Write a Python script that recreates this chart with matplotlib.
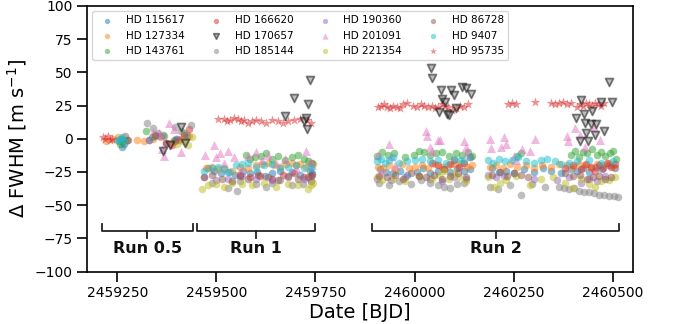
import matplotlib
matplotlib.use("Agg")
import matplotlib.pyplot as plt

T0 = 2459000.0  # BJD offset used in the time lists below

# ---- per-star FWHM offsets (time in BJD - T0, dFWHM in m/s) -------------------
t_115617 = [255, 262, 268, 275, 330, 345, 372, 398, 425,
            478, 495, 512, 530, 548, 566, 585, 603, 622, 640, 660, 690, 712, 735, 742,
            912, 928, 945, 962, 980, 1005, 1022, 1040, 1058, 1075, 1090, 1108, 1125, 1140,
            1195, 1212, 1230, 1252, 1275, 1300, 1325, 1345, 1370, 1395, 1410, 1425, 1440,
            1458, 1472, 1490, 1505]
v_115617 = [-2, -6, -4, -1, -1, 2, -3, 0, 1,
            -22, -24, -26, -25, -27, -24, -26, -25, -28, -26, -24, -25, -27, -24, -26,
            -23, -25, -26, -24, -27, -25, -22, -26, -24, -23, -25, -22, -24, -23,
            -22, -25, -24, -26, -23, -25, -22, -24, -26, -23, -24, -22, -25,
            -21, -23, -20, -22]

t_127334 = [222, 240, 252, 270, 300, 318, 340, 360, 385, 410, 430,
            475, 490, 505, 520, 540, 560, 580, 600, 615, 630, 645, 660, 675, 690, 700,
            710, 725, 738, 745,
            908, 920, 935, 950, 968, 985, 1000, 1018, 1035, 1052, 1068, 1085, 1100, 1118,
            1132, 1145,
            1190, 1205, 1222, 1240, 1258, 1280, 1300, 1322, 1345, 1365, 1385, 1400, 1415,
            1430, 1445, 1460, 1475, 1490, 1502]
v_127334 = [-2, 0, 1, -2, -1, -2, 0, 1, -3, 0, 2,
            -22, -21, -23, -22, -24, -21, -22, -20, -19, -18, -20, -21, -19, -18, -20,
            -19, -21, -18, -19,
            -21, -22, -20, -23, -19, -22, -21, -20, -22, -19, -21, -20, -19, -18,
            -21, -20,
            -21, -20, -22, -19, -21, -20, -22, -20, -21, -19, -20, -21, -19,
            -20, -22, -19, -20, -18, -21]

t_143761 = [258, 265, 322, 338, 365, 392, 418,
            575, 585, 598, 612, 625, 640, 655, 672, 690, 705, 720, 732, 742,
            905, 918, 932, 948, 975, 998, 1012, 1025, 1040, 1055, 1070, 1088, 1105, 1120,
            1135, 1145,
            1258, 1268, 1395, 1405, 1415, 1425, 1435, 1448, 1460, 1470, 1480, 1492, 1500,
            1508]
v_143761 = [-4, -2, 6, 1, 3, -1, 4,
            -12, -15, -14, -13, -11, -15, -13, -16, -14, -12, -15, -17, -18,
            -13, -10, -12, -11, -14, -12, -9, -10, -12, -11, -10, -13, -11, -12,
            -10, -13,
            -13, -11, -12, -9, -14, -10, -11, -8, -12, -10, -13, -11, -9,
            -15]

t_166620 = [372, 388, 405, 418, 432,
            560, 585, 610, 640, 668, 695, 720, 740,
            1045, 1060, 1075, 1090, 1100, 1112, 1125, 1140,
            1380, 1400, 1420, 1432, 1445, 1455, 1465, 1475, 1485, 1495, 1505]
v_166620 = [-3, -5, -1, 3, 7,
            -27, -29, -28, -30, -27, -26, -29, -28,
            -18, -20, -23, -19, -16, -21, -18, -14,
            -22, -20, -23, -19, -21, -24, -20, -22, -18, -21, -19]

t_170657 = [365, 383, 411, 420,
            674, 697, 720, 726, 728, 732, 737,
            1042, 1043, 1062, 1067, 1070, 1078, 1083, 1088, 1092, 1100, 1105, 1120, 1130,
            1143,
            1406, 1417, 1421, 1427, 1431, 1433, 1437, 1444, 1447, 1456, 1457, 1470, 1478,
            1490, 1497]
v_170657 = [-9, -5, 9, -3,
            17, 31, 13, 16, 7, 26, 44,
            53, 46, 20, 37, 30, 28, 19, 18, 37, 33, 23, 39, 38,
            34,
            16, -2, 29, 19, 12, 4, -2, 11, 21, 3, 11, 28, 6,
            43, 28]

t_185144 = [325, 340, 352, 368, 395, 410, 425, 435,
            490, 530, 552, 560, 600, 625, 640, 660, 690, 718, 738,
            910, 935, 960, 990, 1015, 1040, 1060, 1075, 1090, 1108, 1125,
            1190, 1210, 1240, 1268, 1295, 1330, 1365, 1378, 1390, 1402, 1415, 1428, 1440,
            1452, 1465, 1478, 1490, 1502, 1512]
v_185144 = [12, 8, 4, 2, 9, 6, 3, 10,
            -33, -37, -39, -32, -34, -36, -33, -31, -35, -34, -32,
            -33, -35, -32, -34, -31, -33, -35, -36, -37, -34, -33,
            -36, -38, -35, -42, -34, -36, -36, -37, -38, -37, -39, -40, -40,
            -41, -42, -42, -43, -43, -44]

t_190360 = [330, 355, 400,
            468, 500, 530, 565, 600, 640, 680, 720, 740,
            905, 940, 975, 1010, 1040, 1070, 1100, 1130,
            1185, 1205, 1225, 1300, 1360, 1390, 1420, 1440, 1460, 1480]
v_190360 = [-1, 2, 0,
            -29, -31, -30, -28, -30, -31, -29, -30, -32,
            -30, -31, -29, -28, -30, -32, -29, -30,
            -27, -29, -28, -30, -31, -29, -33, -30, -32, -28]

t_201091 = [340, 355, 362, 368, 380, 392, 412,
            472, 495, 500, 508, 520, 530, 545, 560, 580, 600, 615, 630, 650, 672, 700,
            725, 735, 742,
            908, 915, 935, 940, 950, 1028, 1032, 1040, 1045, 1058, 1063, 1125, 1130, 1133,
            1190, 1192, 1218, 1225, 1230, 1250, 1255, 1270, 1290, 1305, 1385, 1388, 1404,
            1418, 1430, 1453, 1468]
v_201091 = [5, 4, -8, -13, 12, 7, -10,
            -12, -5, -14, -11, -18, -9, -14, -24, -13, -10, -16, -12, -18, -15, -22,
            -9, -17, -20,
            -12, -25, -4, -13, -20, 6, 2, -6, -9, -1, -1, -2, -6, -10,
            0, -7, -6, 1, -4, -13, -16, -8, -9, 0, 2, -2, 8,
            3, -6, 9, -1]

t_221354 = [400, 415, 428, 438,
            465, 480, 500, 520, 540, 565, 590, 620, 650, 680, 705, 730, 738, 744,
            905, 918, 945, 975, 1010, 1045, 1062, 1075, 1088, 1100, 1112, 1130,
            1185, 1200, 1215, 1230, 1255, 1290, 1320, 1350, 1380, 1400, 1420, 1440, 1455,
            1470, 1490, 1505]
v_221354 = [-4, -2, -5, 1,
            -38, -35, -34, -36, -33, -34, -35, -33, -36, -34, -35, -38, -35, -33,
            -29, -31, -30, -32, -28, -30, -27, -24, -30, -26, -29, -32,
            -29, -36, -33, -31, -28, -35, -30, -29, -33, -37, -30, -34, -36,
            -32, -31, -29]

t_86728 = [260, 270, 278, 345, 395,
           470, 490, 515, 540, 560, 580, 605, 630, 655, 680, 705, 730, 742,
           910, 930, 950, 970, 990, 1010, 1030, 1050, 1070, 1090, 1110, 1130,
           1195, 1215, 1232, 1250, 1268, 1285, 1380, 1400, 1418, 1435, 1450, 1465, 1480,
           1495]
v_86728 = [0, 2, -1, 3, -2,
           -29, -27, -30, -32, -28, -30, -27, -29, -31, -28, -30, -29, -27,
           -28, -29, -27, -30, -26, -28, -29, -27, -30, -28, -26, -29,
           -27, -25, -28, -26, -27, -29, -26, -28, -27, -30, -29, -28, -30,
           -29]

t_9407 = [250, 256, 262, 268,
          470, 488, 505, 520, 535, 550, 565, 580, 600, 620, 640, 660, 680, 700, 720, 740,
          905, 915, 925, 935, 945, 960, 980, 1000, 1020, 1040, 1060, 1080, 1100, 1115,
          1125, 1140,
          1185, 1198, 1212, 1228, 1245, 1262, 1280, 1300, 1318, 1335, 1355, 1370, 1390,
          1410, 1440, 1470, 1500]
v_9407 = [-1, 0, 1, -2,
          -24, -22, -21, -23, -25, -20, -19, -18, -21, -20, -19, -22, -21, -20, -22, -21,
          -17, -15, -18, -16, -14, -18, -17, -16, -15, -17, -16, -18, -15, -16,
          -17, -14,
          -16, -18, -15, -17, -16, -14, -17, -18, -16, -15, -17, -19, -18,
          -17, -16, -18, -17]

t_95735 = [215, 220, 226, 232, 236,
           505, 520, 528, 535, 545, 555, 562, 570, 580, 590, 600, 612, 625, 640, 655, 668,
           682, 695, 712, 728, 738,
           908, 915, 922, 930, 938, 946, 955, 963, 972, 980, 995, 1005, 1015, 1025, 1035,
           1045, 1052, 1060, 1068, 1078, 1085, 1095, 1105, 1115, 1125, 1135,
           1235, 1245, 1255, 1305, 1345, 1355, 1365, 1375, 1385, 1395, 1410, 1418, 1425,
           1432, 1440, 1448, 1455, 1462, 1470, 1478]
v_95735 = [1, 0, 2, -1, 0,
           15, 15, 13, 14, 16, 15, 13, 14, 12, 13, 14, 13, 12, 14, 13, 12,
           13, 14, 15, 14, 12,
           24, 25, 26, 24, 23, 25, 24, 23, 26, 27, 25, 24, 26, 25, 24,
           25, 23, 24, 26, 25, 24, 22, 23, 25, 24, 26,
           26, 27, 26, 28, 27, 26, 27, 28, 26, 27, 24, 26, 25,
           27, 26, 25, 27, 26, 25, 27]

# observing runs: name, start, end (BJD)
run_names = ["Run 0.5", "Run 1", "Run 2"]
run_start = [2459211, 2459451, 2459893]
run_end = [2459440, 2459750, 2460516]

# name, times, values, colour, marker, size
STARS = [
    ("HD 115617", t_115617, v_115617, "tab:blue", "o", 30),
    ("HD 127334", t_127334, v_127334, "tab:orange", "o", 30),
    ("HD 143761", t_143761, v_143761, "tab:green", "o", 30),
    ("HD 166620", t_166620, v_166620, "tab:red", "o", 30),
    ("HD 170657", t_170657, v_170657, "tab:gray", "v", 32),
    ("HD 185144", t_185144, v_185144, "tab:gray", "o", 30),
    ("HD 190360", t_190360, v_190360, "tab:purple", "o", 30),
    ("HD 201091", t_201091, v_201091, "tab:pink", "^", 42),
    ("HD 221354", t_221354, v_221354, "tab:olive", "o", 30),
    ("HD 86728", t_86728, v_86728, "tab:brown", "o", 30),
    ("HD 9407", t_9407, v_9407, "tab:cyan", "o", 30),
    ("HD 95735", t_95735, v_95735, "tab:red", "*", 55),
]

fig = plt.figure(figsize=(6.73, 3.24), dpi=100)
ax = fig.add_axes([0.1297, 0.162, 0.8103, 0.8195])

handles = []
for name, t, v, col, mk, s in STARS:
    x = [T0 + ti for ti in t]
    if mk == "v":
        h = ax.scatter(x, v, s=s, marker=mk, facecolor=col, edgecolor="k",
                       linewidths=1.3, alpha=0.5, label=name, zorder=3)
    else:
        h = ax.scatter(x, v, s=s, marker=mk, color=col, alpha=0.5, linewidths=0,
                       label=name, zorder=2)
    handles.append(h)

# run brackets under the data
y_bar, y_tip, y_mid = -69.7, -64.3, -74.8
for name, a, b in zip(run_names, run_start, run_end):
    c = 0.5 * (a + b)
    ax.plot([a, a, b, b], [y_tip, y_bar, y_bar, y_tip], color="#222222", lw=1.3)
    ax.plot([c, c], [y_bar, y_mid], color="#222222", lw=1.3)
    ax.text(c, -82.5, name, ha="center", va="center", fontsize=11.5,
            fontweight="bold", color="#111111")

ax.set_xlim(2459174.5, 2460550)
ax.set_ylim(-100, 100)
ax.set_xticks([2459250, 2459500, 2459750, 2460000, 2460250, 2460500])
ax.set_yticks([-100, -75, -50, -25, 0, 25, 50, 75, 100])
ax.ticklabel_format(axis="x", useOffset=False, style="plain")
ax.tick_params(labelsize=10, length=7, width=1.2)
for sp in ax.spines.values():
    sp.set_linewidth(1.2)

ax.set_xlabel("Date [BJD]", fontsize=14, labelpad=2)
ax.set_ylabel(r"$\Delta$ FWHM [m s$^{-1}$]", fontsize=14)

ax.legend(handles=handles, loc="upper left", ncol=4, fontsize=7.5,
          markerscale=0.7, scatterpoints=1, framealpha=0.8)

fig.savefig("out.png", dpi=100, facecolor="white")
